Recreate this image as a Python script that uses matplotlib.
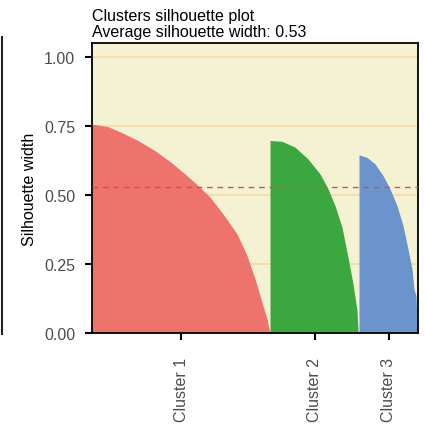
import numpy as np
import matplotlib.pyplot as plt
from matplotlib.lines import Line2D

plt.rcParams.update({
    "font.family": ["Liberation Sans", "DejaVu Sans"],
    "font.size": 11.5,
})

# silhouette widths read along each cluster (obs rank within cluster, width)
c1_rank = [0, 3, 16, 29, 46, 63, 79, 93, 106, 118, 131, 145, 155, 163, 170, 175, 178]
c1_sil = [0.755, 0.755, 0.747, 0.727, 0.697, 0.66, 0.618, 0.576, 0.534, 0.492,
          0.431, 0.359, 0.28, 0.196, 0.111, 0.051, 0.0]
c2_rank = [0, 12, 25, 38, 50, 58, 65, 72, 78, 83, 87, 88, 89]
c2_sil = [0.697, 0.694, 0.673, 0.63, 0.576, 0.522, 0.461, 0.383, 0.274, 0.178, 0.081, 0.008, 0.0]
c3_rank = [0, 8, 16, 24, 31, 38, 44, 49, 53, 55, 57, 58, 59]
c3_sil = [0.645, 0.636, 0.612, 0.57, 0.522, 0.461, 0.389, 0.304, 0.232, 0.159, 0.135, 0.04, 0.02]

cluster_names = ["Cluster 1", "Cluster 2", "Cluster 3"]
cluster_sizes = [178, 89, 59]
cluster_colors = ["#ee736c", "#3ba83f", "#6b93cc"]
avg_sil = 0.53

fig = plt.figure(figsize=(4.25, 4.27), dpi=100)
ax = fig.add_axes([92 / 425, 1 - 334 / 427, 326 / 425, 290 / 427])
ax.set_facecolor("#f5f2d4")

for y in [0.25, 0.5, 0.75, 1.0]:
    ax.axhline(y, color="#f8d8a6", lw=1.2, zorder=1)

starts = np.cumsum([0] + cluster_sizes[:-1])
centers = []
for start, size, ranks, sil, col in zip(starts, cluster_sizes,
                                         [c1_rank, c2_rank, c3_rank],
                                         [c1_sil, c2_sil, c3_sil], cluster_colors):
    x = start + np.array(ranks)
    ax.fill_between(x, sil, 0, color=col, lw=0, zorder=2)
    centers.append(start + size / 2)

ax.axhline(avg_sil, color="#d0524c", lw=1.0, ls=(0, (4, 3.5)), zorder=3)

ax.set_xlim(0, sum(cluster_sizes))
ax.set_ylim(0, 1.05)
ax.set_yticks([0, 0.25, 0.5, 0.75, 1.0])
ax.set_yticklabels(["0.00", "0.25", "0.50", "0.75", "1.00"])
ax.set_xticks(centers)
ax.set_xticklabels(cluster_names, rotation=90)
ax.tick_params(colors="black", labelcolor="#4d4d4d", labelsize=11.5, width=1.5, length=5)
ax.tick_params(axis="y", pad=7)
ax.tick_params(axis="x", pad=12)
for s in ax.spines.values():
    s.set_linewidth(1.3)
    s.set_color("black")

ax.set_ylabel("Silhouette width", fontsize=11.5, labelpad=5)
ax.set_title("Clusters silhouette plot\nAverage silhouette width: 0.53",
             loc="left", fontsize=11.5, pad=5, linespacing=1.05)

# thin dark edge on the left of the image
fig.add_artist(Line2D([2 / 425, 2 / 425], [1 - 335 / 427, 1 - 38 / 427],
                      color="#222222", lw=1.5))

fig.savefig("out.png", dpi=100)
